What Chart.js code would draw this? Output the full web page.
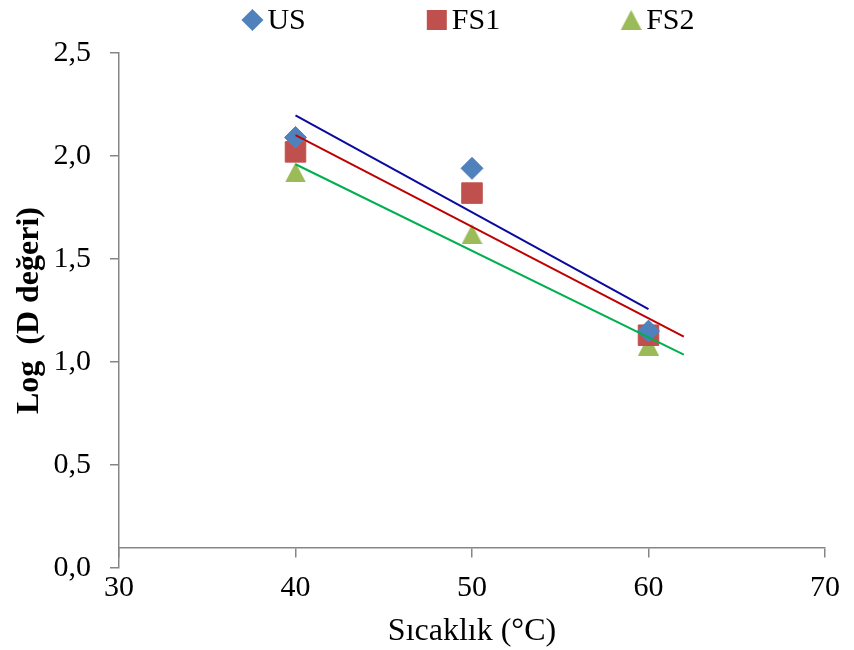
<!DOCTYPE html>
<html>
<head>
<meta charset="utf-8">
<script src="https://cdn.jsdelivr.net/npm/chart.js@4.4.1/dist/chart.umd.min.js"></script>
<style>
  html, body { margin: 0; padding: 0; background: #fff; }
  #wrap { width: 854px; height: 650px; }
</style>
</head>
<body>
<div id="wrap"><canvas id="tempChart" width="854" height="650"></canvas></div>
<script>
// temperature (°C) and log D-value per sample
const temps = [40, 50, 60];
const logD_US = [2.09, 1.94, 1.15];
const logD_FS1 = [2.02, 1.82, 1.13];
const logD_FS2 = [1.92, 1.62, 1.08];

const seriesNames = ['US', 'FS1', 'FS2'];
const seriesValues = [logD_US, logD_FS1, logD_FS2];
// last x each trend line reaches (FS1 / FS2 forecast 2 units ahead)
const trendEnd = [60, 62, 62];

const markerColors = ['#4F81BD', '#C0504D', '#9BBB59'];
const trendColors = ['#0A0A9E', '#C00000', '#00B050'];

const serif = '"Liberation Serif", "Times New Roman", serif';
const axisGray = '#868686';

// triangle marker as an image so it sits centred on its value
function triangleImage(color) {
    const c = document.createElement('canvas');
    c.width = 21;
    c.height = 20;
    const g = c.getContext('2d');
    g.fillStyle = color;
    g.beginPath();
    g.moveTo(10.5, 0);
    g.lineTo(21, 20);
    g.lineTo(0, 20);
    g.closePath();
    g.fill();
    return c;
}

const markerStyles = ['rectRot', 'rect', triangleImage(markerColors[2])];
const markerRadius = [11, 14.5, 11];

// least squares line through the points
function linearFit(xs, ys) {
    const n = xs.length;
    const mx = xs.reduce((a, b) => a + b, 0) / n;
    const my = ys.reduce((a, b) => a + b, 0) / n;
    let sxy = 0, sxx = 0;
    for (let i = 0; i < n; i++) {
        sxy += (xs[i] - mx) * (ys[i] - my);
        sxx += (xs[i] - mx) * (xs[i] - mx);
    }
    const slope = sxy / sxx;
    return x => my + slope * (x - mx);
}

let datasets = [];

// trend lines first so they sit on top of the markers
seriesNames.forEach((name, i) => {
    const fit = linearFit(temps, seriesValues[i]);
    const x0 = temps[0];
    const x1 = trendEnd[i];
    datasets.push({
        label: name + ' trend',
        data: [{ x: x0, y: fit(x0) }, { x: x1, y: fit(x1) }],
        showLine: true,
        borderColor: trendColors[i],
        borderWidth: 2,
        pointRadius: 0,
        order: 0
    });
});

seriesNames.forEach((name, i) => {
    datasets.push({
        label: name,
        data: temps.map((t, k) => ({ x: t, y: seriesValues[i][k] })),
        pointStyle: markerStyles[i],
        pointRadius: markerRadius[i],
        pointHoverRadius: markerRadius[i],
        backgroundColor: markerColors[i],
        borderColor: markerColors[i],
        borderWidth: 1,
        showLine: false,
        order: 1
    });
});

function drawMarker(ctx, i, cx, cy) {
    const style = markerStyles[i];
    ctx.fillStyle = markerColors[i];
    if (style instanceof HTMLCanvasElement) {
        ctx.drawImage(style, cx - style.width / 2, cy - style.height / 2);
        return;
    }
    ctx.beginPath();
    if (style === 'rectRot') {
        ctx.moveTo(cx, cy - 11);
        ctx.lineTo(cx + 11, cy);
        ctx.lineTo(cx, cy + 11);
        ctx.lineTo(cx - 11, cy);
    } else {
        ctx.rect(cx - 10, cy - 10, 20, 20);
    }
    ctx.closePath();
    ctx.fill();
}

// legend row above the plot
const topLegend = {
    id: 'topLegend',
    afterDraw(chart) {
        const ctx = chart.ctx;
        const area = chart.chartArea;
        const box = 22, gap = 4, spacing = 120;
        ctx.save();
        ctx.font = '30px ' + serif;
        ctx.textBaseline = 'middle';
        const widths = seriesNames.map(n => box + gap + ctx.measureText(n).width);
        const total = widths.reduce((a, b) => a + b, 0) + spacing * (widths.length - 1);
        let x = (area.left + area.right) / 2 - 4 - total / 2;
        const y = 20;
        seriesNames.forEach((name, i) => {
            drawMarker(ctx, i, x + box / 2, y);
            ctx.fillStyle = '#000';
            ctx.fillText(name, x + box + gap, y + 1);
            x += widths[i] + spacing;
        });
        ctx.restore();
    }
};

const ctx = document.getElementById('tempChart').getContext('2d');
new Chart(ctx, {
    type: 'scatter',
    data: { datasets: datasets },
    plugins: [topLegend],
    options: {
        responsive: false,
        animation: false,
        layout: { padding: { left: 7, right: 27, top: 53, bottom: 82 } },
        scales: {
            x: {
                type: 'linear',
                position: { y: 0.1 },
                min: 30,
                max: 70,
                ticks: {
                    stepSize: 10,
                    padding: 14,
                    color: '#000',
                    font: { family: serif, size: 30 }
                },
                grid: { drawOnChartArea: false, drawTicks: true, tickLength: 9, color: axisGray, lineWidth: 1.5 },
                border: { color: axisGray, width: 1.5 },
                title: {
                    display: true,
                    text: 'Sıcaklık (°C)',
                    color: '#000',
                    font: { family: serif, size: 32 },
                    padding: { top: -8, bottom: 0 }
                }
            },
            y: {
                min: 0,
                max: 2.5,
                ticks: {
                    stepSize: 0.5,
                    padding: 19,
                    color: '#000',
                    font: { family: serif, size: 30 },
                    callback: v => v.toFixed(1).replace('.', ',')
                },
                grid: { drawOnChartArea: false, drawTicks: true, tickLength: 9, color: axisGray, lineWidth: 1.5 },
                border: { color: axisGray, width: 1.5 },
                title: {
                    display: true,
                    text: 'Log  (D değeri)',
                    color: '#000',
                    font: { family: serif, size: 32, weight: 'bold' },
                    padding: { top: 4, bottom: 4 }
                },
                afterFit(scale) {
                    scale.width = 112;
                }
            }
        },
        plugins: {
            legend: { display: false },
            tooltip: { enabled: false }
        }
    }
});
</script>
</body>
</html>
